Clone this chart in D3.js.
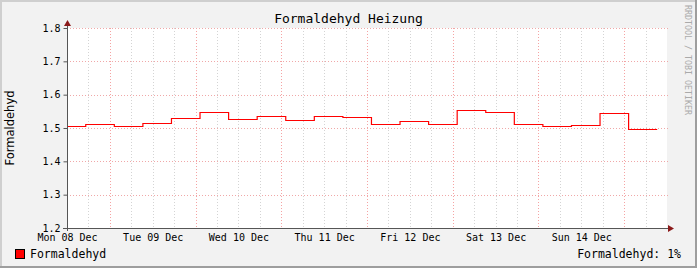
<!DOCTYPE html>
<html>
<head>
<meta charset="utf-8">
<script src="https://cdn.jsdelivr.net/npm/d3@7"></script>
<style>
  body { margin: 0; background: #fff; }
  text { font-family: "DejaVu Sans Mono", monospace; }
</style>
</head>
<body>
<div id="vis"></div>
<script>
// data: 8 hour averages, first segment starts at the left edge
var segStart = [
  "2014-12-08 00:00", "2014-12-08 05:15", "2014-12-08 13:15", "2014-12-08 21:15",
  "2014-12-09 05:15", "2014-12-09 13:15", "2014-12-09 21:15",
  "2014-12-10 05:15", "2014-12-10 13:15", "2014-12-10 21:15",
  "2014-12-11 05:15", "2014-12-11 13:15", "2014-12-11 21:15",
  "2014-12-12 05:15", "2014-12-12 13:15", "2014-12-12 21:15",
  "2014-12-13 05:15", "2014-12-13 13:15", "2014-12-13 21:15",
  "2014-12-14 05:15", "2014-12-14 13:15"
];
var lastEnd = "2014-12-14 21:15";
var values = [1.507, 1.513, 1.507, 1.516, 1.529, 1.549, 1.526, 1.535, 1.523, 1.535,
              1.532, 1.511, 1.520, 1.511, 1.553, 1.547, 1.511, 1.505, 1.508, 1.544, 1.496];
var yTicks = [1.2, 1.3, 1.4, 1.5, 1.6, 1.7, 1.8];
var timeRange = ["2014-12-08 00:00", "2014-12-15 00:00"];

var title = "Formaldehyd Heizung";
var seriesName = "Formaldehyd";
var legendRight = "Formaldehyd: 1%";

var w = 697, h = 268;
var pLeft = 67, pRight = 667, pTop = 28, pBottom = 228;

var parse = d3.timeParse("%Y-%m-%d %H:%M");

var svg = d3.select("#vis")
            .append("svg")
            .attr("width", w)
            .attr("height", h);

// background and 3d-ish border
svg.append("rect").attr("width", w).attr("height", h).attr("fill", "#f2f2f2");
svg.append("rect").attr("x", 0).attr("y", 0).attr("width", w).attr("height", 2).attr("fill", "#cfcfcf");
svg.append("rect").attr("x", 0).attr("y", 0).attr("width", 2).attr("height", h).attr("fill", "#cfcfcf");
svg.append("rect").attr("x", w - 2).attr("y", 0).attr("width", 2).attr("height", h).attr("fill", "#9e9e9e");
svg.append("rect").attr("x", 0).attr("y", h - 2).attr("width", w).attr("height", 2).attr("fill", "#9e9e9e");

var x = d3.scaleTime()
          .domain(timeRange.map(parse))
          .range([pLeft, pRight]);

var y = d3.scaleLinear()
          .domain([1.2, 1.8])
          .range([pBottom, pTop]);

// plot area
svg.append("rect")
   .attr("x", pLeft).attr("y", pTop)
   .attr("width", pRight - pLeft).attr("height", pBottom - pTop)
   .attr("fill", "#ffffff");

// vertical grid: minor every 6h, major at noon
var gridTimes = x.ticks(d3.timeHour.every(6));
svg.append("g")
   .selectAll("line")
   .data(gridTimes.filter(d => x(d) > pLeft + 1 && x(d) < pRight))
   .enter()
   .append("line")
   .attr("x1", d => Math.round(x(d)) + 0.5)
   .attr("x2", d => Math.round(x(d)) + 0.5)
   .attr("y1", pTop)
   .attr("y2", pBottom)
   .attr("stroke", d => d.getHours() === 12 ? "#f5a3a3" : "#d4d4d4")
   .attr("stroke-dasharray", "1,2");

// horizontal grid
svg.append("g")
   .selectAll("line")
   .data(yTicks.filter(d => d > 1.2))
   .enter()
   .append("line")
   .attr("x1", pLeft)
   .attr("x2", pRight + 2)
   .attr("y1", d => Math.round(y(d)) + 0.5)
   .attr("y2", d => Math.round(y(d)) + 0.5)
   .attr("stroke", "#f0a8a8")
   .attr("stroke-dasharray", "1,2");

// the data line
var pts = segStart.map((s, i) => [parse(s), values[i]]);
pts.push([parse(lastEnd), values[values.length - 1]]);

var line = d3.line()
             .x(d => x(d[0]))
             .y(d => Math.round(y(d[1])) + 0.5)
             .curve(d3.curveStepAfter);

svg.append("path")
   .datum(pts)
   .attr("d", line)
   .attr("fill", "none")
   .attr("stroke", "#ff0000")
   .attr("stroke-width", 1.2);

// y axis labels and ticks
var yAxis = d3.axisLeft(y)
              .tickValues(yTicks)
              .tickSize(4)
              .tickPadding(3)
              .tickFormat(d3.format(".1f"));
var gy = svg.append("g")
            .attr("transform", `translate(${pLeft + 0.5},0)`)
            .call(yAxis);
gy.select(".domain").remove();
gy.selectAll(".tick line").attr("stroke", "#555");
gy.selectAll("text")
  .attr("font-family", "DejaVu Sans Mono")
  .attr("font-size", 10)
  .attr("fill", "#000");

// x axis labels
var xAxis = d3.axisBottom(x)
              .ticks(d3.timeDay.every(1))
              .tickFormat(d3.timeFormat("%a %d %b"))
              .tickSize(0)
              .tickPadding(6);
var gx = svg.append("g")
            .attr("transform", `translate(0,${pBottom})`)
            .call(xAxis);
gx.select(".domain").remove();
gx.selectAll(".tick")
  .filter(d => x(d) > pRight - 20)
  .remove();
gx.selectAll("text")
  .attr("font-family", "DejaVu Sans Mono")
  .attr("font-size", 10)
  .attr("fill", "#000");

// axis lines with arrows
svg.append("line")
   .attr("x1", pLeft - 4).attr("x2", pRight + 4)
   .attr("y1", pBottom + 0.5).attr("y2", pBottom + 0.5)
   .attr("stroke", "#555");
svg.append("line")
   .attr("x1", pLeft + 0.5).attr("x2", pLeft + 0.5)
   .attr("y1", pBottom + 3).attr("y2", pTop - 5)
   .attr("stroke", "#555");
svg.append("path")
   .attr("d", `M${pRight + 1},${pBottom - 3} L${pRight + 7},${pBottom + 0.5} L${pRight + 1},${pBottom + 4} Z`)
   .attr("fill", "#8b1a1a");
svg.append("path")
   .attr("d", `M${pLeft - 3},${pTop - 2} L${pLeft + 0.5},${pTop - 8} L${pLeft + 4},${pTop - 2} Z`)
   .attr("fill", "#8b1a1a");

// title
svg.append("text")
   .attr("x", w / 2)
   .attr("y", 23)
   .attr("text-anchor", "middle")
   .attr("font-size", 13)
   .attr("fill", "#000")
   .text(title);

// vertical axis title
svg.append("text")
   .attr("transform", `translate(14,${(pTop + pBottom) / 2}) rotate(-90)`)
   .attr("text-anchor", "middle")
   .style("font-family", "DejaVu Sans")
   .attr("font-size", 11.5)
   .attr("fill", "#000")
   .text(seriesName);

// watermark
svg.append("text")
   .attr("transform", `translate(685,5) rotate(90)`)
   .attr("font-size", 8.3)
   .attr("fill", "#aaaaaa")
   .text("RRDTOOL / TOBI OETIKER");

// legend
svg.append("rect")
   .attr("x", 15.5).attr("y", 249.5)
   .attr("width", 9).attr("height", 9)
   .attr("fill", "#ff0000")
   .attr("stroke", "#000");
svg.append("text")
   .attr("x", 30)
   .attr("y", 258)
   .attr("font-size", 11.5)
   .attr("fill", "#000")
   .text(seriesName);
svg.append("text")
   .attr("x", 681)
   .attr("y", 258)
   .attr("text-anchor", "end")
   .attr("font-size", 11.5)
   .attr("fill", "#000")
   .text(legendRight);
</script>
</body>
</html>
